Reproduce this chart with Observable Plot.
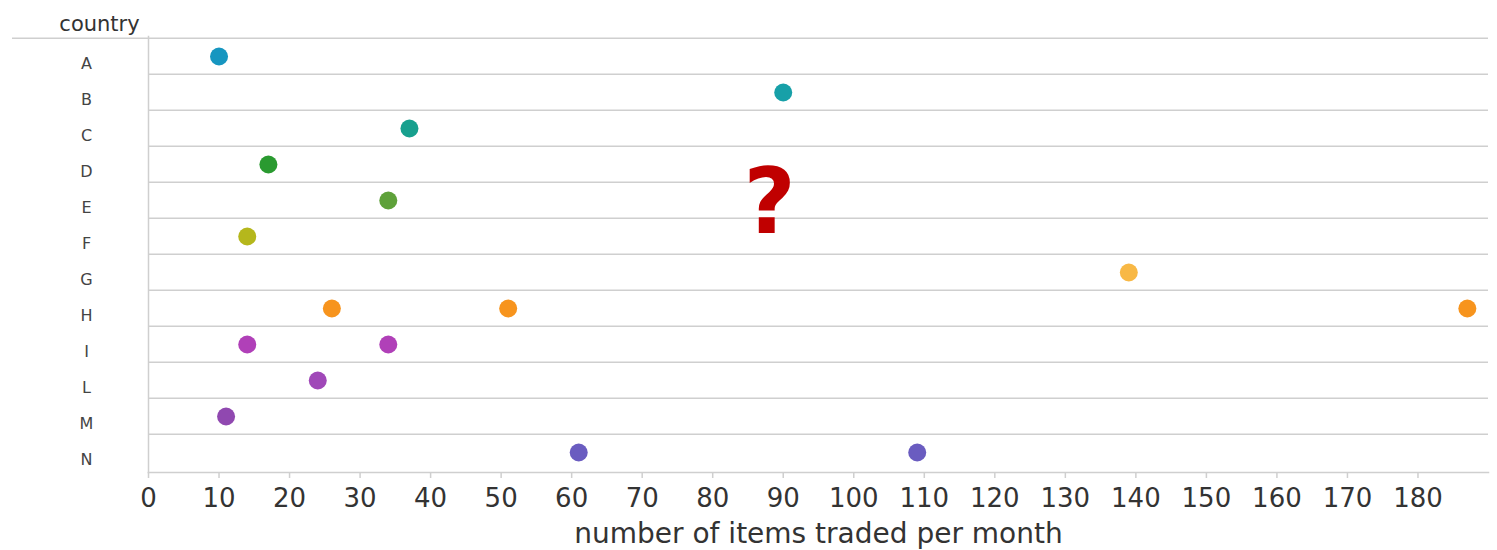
<!DOCTYPE html>
<html>
<head>
<meta charset="utf-8">
<script src="https://cdn.jsdelivr.net/npm/d3@7"></script>
<script src="https://cdn.jsdelivr.net/npm/@observablehq/plot@0.6"></script>
<style>
  html, body { margin: 0; padding: 0; background: #fff; }
  #chart svg { display: block; }
</style>
</head>
<body>
<div id="chart"></div>
<script>
// Categories (rows) and their dot colours
const countries = ["A", "B", "C", "D", "E", "F", "G", "H", "I", "L", "M", "N"];
const countryColors = ["#1696c0", "#17a0a8", "#17a08e", "#2a9a30", "#5ea13a", "#b5b71c",
                       "#f8b845", "#f7941d", "#b040b8", "#a048b8", "#9048b0", "#6a5cc0"];

// One entry per dot
const pointCountry = ["A", "B", "C", "D", "E", "F", "G", "H", "H", "H", "I", "I", "L", "M", "N", "N"];
const pointValue   = [10, 90, 37, 17, 34, 14, 139, 26, 51, 187, 14, 34, 24, 11, 61, 109];

// Axis ticks
const xTicks = [0, 10, 20, 30, 40, 50, 60, 70, 80, 90, 100, 110, 120, 130, 140, 150, 160, 170, 180];

const xLabel = "number of items traded per month";
const yLabel = "country";

const points = pointCountry.map((c, i) => ({country: c, value: pointValue[i]}));

const W = 1497, H = 550;
const mTop = 36, mBottom = 78, mLeft = 148, mRight = 9;
const step = (H - mTop - mBottom) / countries.length;
const grid = "#cfcfcf";

const chart = Plot.plot({
  width: W,
  height: H,
  marginTop: mTop,
  marginBottom: mBottom,
  marginLeft: mLeft,
  marginRight: mRight,
  style: {fontFamily: "'DejaVu Sans', Verdana, sans-serif", background: "#fff"},
  x: {domain: [0, 190]},
  y: {type: "band", domain: countries, padding: 0},
  color: {type: "ordinal", domain: countries, range: countryColors},
  marks: [
    // row separators (top edge of each row)
    Plot.ruleY(countries.slice(1), {y: d => d, dy: -step / 2, stroke: grid, strokeWidth: 1.5}),
    // top line extends under the "country" label
    Plot.ruleY(countries.slice(0, 1), {y: d => d, dy: -step / 2, stroke: grid, strokeWidth: 1.5, insetLeft: -136}),
    // y axis line and x axis line
    Plot.frame({anchor: "left", stroke: grid, strokeWidth: 1.5}),
    Plot.frame({anchor: "bottom", stroke: grid, strokeWidth: 1.5}),
    Plot.axisX({ticks: xTicks, tickSize: 6, tickPadding: 10, fontSize: 26, stroke: grid, strokeWidth: 1.5,
                color: "#333", label: null}),
    Plot.axisY({tickSize: 0, tickPadding: mLeft - 86, textAnchor: "middle", dy: 7, fontSize: 16,
                color: "#444", label: null}),
    Plot.dot(points, {x: "value", y: "country", fill: "country", r: 9}),
    Plot.text([yLabel], {frameAnchor: "top-left", dx: 99 - mLeft, dy: -20, fontSize: 21,
                         textAnchor: "middle", fill: "#333"}),
    Plot.text([xLabel], {frameAnchor: "bottom", dy: 70, fontSize: 28, fill: "#333"}),
    Plot.text(["?"], {frameAnchor: "middle", dx: -49, dy: -50, fontSize: 90, fontWeight: "bold",
                      fill: "#c00000"})
  ]
});

document.getElementById("chart").appendChild(chart);
</script>
</body>
</html>
